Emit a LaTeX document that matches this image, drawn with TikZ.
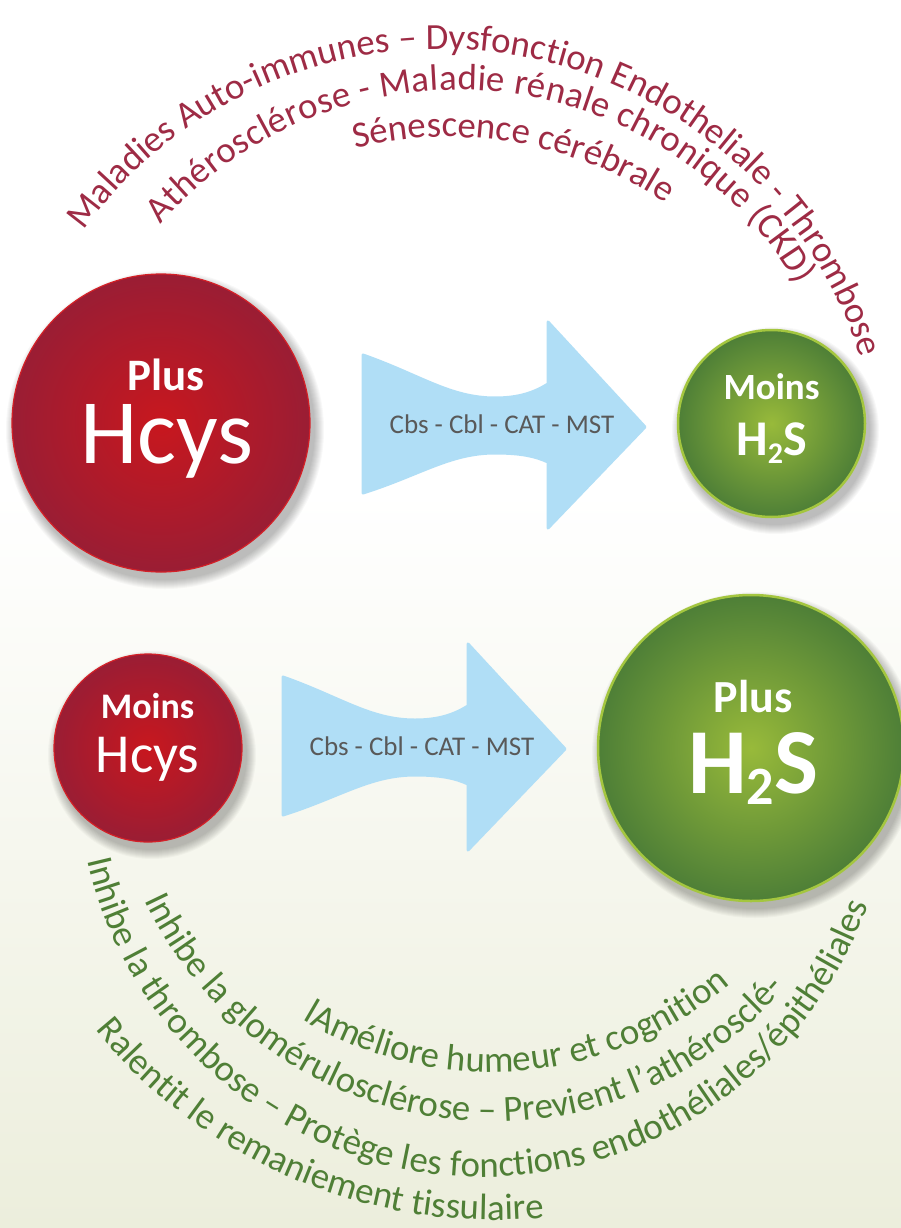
\documentclass[tikz,border=0pt]{standalone}
\usepackage{fontspec}
\setmainfont{Carlito}
\usetikzlibrary{decorations.text}
\definecolor{topred}{HTML}{9E2B45}
\definecolor{botgreen}{HTML}{4F7F36}
\definecolor{arrowblue}{HTML}{B0DEF6}
\definecolor{redin}{HTML}{C8171E}
\definecolor{redout}{HTML}{9A1D34}
\definecolor{redline}{HTML}{D42027}
\definecolor{grin}{HTML}{98BA3A}
\definecolor{grout}{HTML}{4E7F37}
\definecolor{grline}{HTML}{A4C63F}
\definecolor{bgbot}{HTML}{ECEEDC}
\definecolor{arrowtext}{HTML}{595959}
\pgfdeclareverticalshading{bgshade}{100bp}{color(0bp)=(bgbot); color(25bp)=(bgbot); color(55bp)=(white); color(100bp)=(white)}
\newcommand{\ballshadow}[3]{%
  \foreach \k in {1,...,10}{\fill[black,opacity=0.028] (#1+4,#2-7) circle ({#3+\k*1.0});}%
}
\begin{document}
\begin{tikzpicture}[x=1pt,y=1pt,
  arctop/.style={decorate,decoration={text along path,text align={fit to path},text={|\fontsize{36.8}{40}\selectfont\color{topred}|#1}}},
  arcbot/.style={decorate,decoration={text along path,text align={fit to path},text={|\fontsize{36.8}{40}\selectfont\color{botgreen}|#1}}},
  redball/.style={circle,inner sep=0pt,outer sep=0pt,minimum size=#1,inner color=redin,outer color=redout,draw=redline,line width=1.2pt},
  greenball/.style={circle,inner sep=0pt,outer sep=0pt,minimum size=#1,inner color=grin,outer color=grout,draw=grline,line width=2.5pt},
  balltext/.style={text=white,inner sep=0pt,anchor=base},
  arrowshape/.style={fill=arrowblue,draw=arrowblue,line width=3pt,line join=round},
  arrowlabel/.style={text=arrowtext,inner sep=0pt,anchor=base,font=\fontsize{27}{30}\selectfont}]

\shade[shading=bgshade] (0,0) rectangle (901,-1228);
\useasboundingbox (0,0) rectangle (901,-1228);

% ---------- top arcs of text ----------
\path[arctop={Maladies Auto-immunes – Dysfonction Endotheliale - Thrombose}]
  (440,-490.1) ++(144:441) arc[start angle=144,end angle=18.5,radius=441];
\path[arctop={Athérosclérose - Maladie rénale chronique (CKD)}]
  (457,-484) ++(138.8:394) arc[start angle=138.8,end angle=30.3,radius=394];
\path[arctop={Sénescence cérébrale}]
  (448,-529) ++(103.7:392) arc[start angle=103.7,end angle=57,radius=392];

% ---------- bottom arcs of text ----------
\path[arcbot={lAméliore humeur et cognition}]
  (491.5,-703) ++(239.1:369) arc[start angle=239.1,end angle=310.2,radius=369];
\path[arcbot={Inhibe la glomérulosclérose – Previent l’athérosclé-}]
  (493,-738) ++(205:384) arc[start angle=205,end angle=319.4,radius=384];
\path[arcbot={Inhibe la thrombose – Protège les fonctions endothéliales/épithéliales}]
  (484,-770) ++(192.8:407) arc[start angle=192.8,end angle=340.6,radius=407];
\path[arcbot={Ralentit le remaniement tissulaire}]
  (495,-705) ++(219.1:515) arc[start angle=219.1,end angle=275,radius=515];

% ---------- arrows ----------
\begin{scope}
\path[arrowshape] (363,-355) .. controls (420,-375) and (450,-398) .. (495,-398)
  .. controls (520,-398) and (535,-392) .. (548,-384) -- (548,-322) -- (645,-427)
  -- (548,-528) -- (548,-462) .. controls (535,-456) and (520,-453) .. (495,-453)
  .. controls (450,-453) and (420,-475) .. (363,-493) -- cycle;
\end{scope}
\begin{scope}[shift={(-80,-322)}]
\path[arrowshape] (363,-355) .. controls (420,-375) and (450,-398) .. (495,-398)
  .. controls (520,-398) and (535,-392) .. (548,-384) -- (548,-322) -- (645,-427)
  -- (548,-528) -- (548,-462) .. controls (535,-456) and (520,-453) .. (495,-453)
  .. controls (450,-453) and (420,-475) .. (363,-493) -- cycle;
\end{scope}
\node[arrowlabel] (lab1) at (502,-433) {Cbs - Cbl - CAT - MST};
\node[arrowlabel] (lab2) at (422,-755) {Cbs - Cbl - CAT - MST};

% ---------- balls ----------
\ballshadow{161}{-423}{149}
\node[redball=298pt] (hcysA) at (161,-423) {};
\node[balltext,font=\fontsize{45}{50}\selectfont\bfseries] (plusA) at (166,-390) {Plus};
\node[balltext,font=\fontsize{92}{96}\selectfont] (hcysAt) at (167,-463) {Hcys};

\ballshadow{771.5}{-423.5}{93.5}
\node[greenball=187pt] (h2sA) at (771.5,-423.5) {};
\node[balltext,font=\fontsize{37}{40}\selectfont\bfseries] (moinsA) at (771.5,-399) {Moins};
\node[balltext,font=\fontsize{50}{54}\selectfont\bfseries] (h2sAt) at (771.5,-455)
  {H\raisebox{-0.16em}{\fontsize{30}{32}\selectfont 2}S};

\ballshadow{148}{-748}{94}
\node[redball=188pt] (hcysB) at (148,-748) {};
\node[balltext,font=\fontsize{36}{40}\selectfont\bfseries] (moinsB) at (147.5,-718) {Moins};
\node[balltext,font=\fontsize{55}{60}\selectfont] (hcysBt) at (147.5,-772) {Hcys};

\ballshadow{751}{-748}{153}
\node[greenball=306pt] (h2sB) at (751,-748) {};
\node[balltext,font=\fontsize{46}{50}\selectfont\bfseries] (plusB) at (753,-712) {Plus};
\node[balltext,font=\fontsize{93}{96}\selectfont\bfseries] (h2sBt) at (753,-793)
  {H\raisebox{-0.12em}{\fontsize{54}{58}\selectfont 2}S};
\end{tikzpicture}
\end{document}
